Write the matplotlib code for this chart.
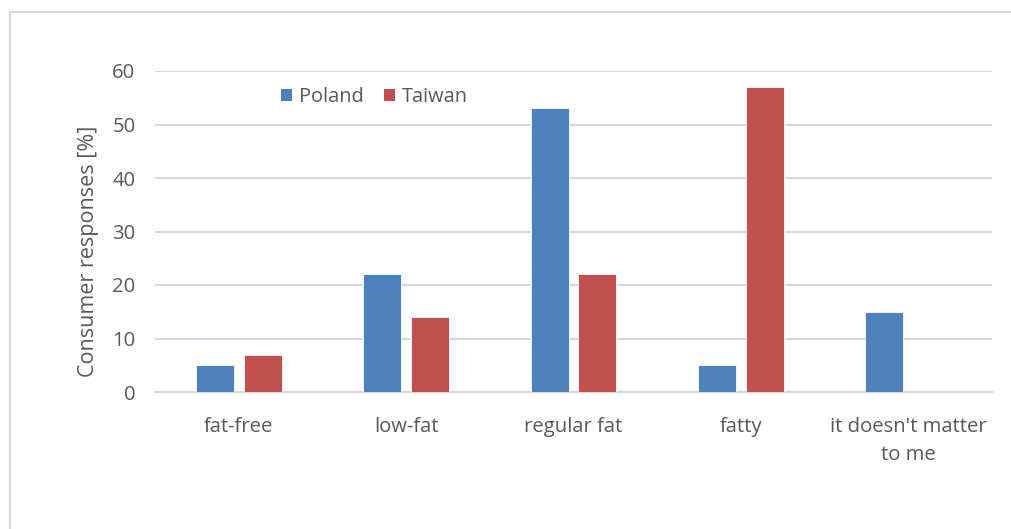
import matplotlib
matplotlib.use("Agg")
import matplotlib.pyplot as plt
import numpy as np
from matplotlib.patches import Rectangle, Patch

categories = ["fat-free", "low-fat", "regular fat", "fatty", "it doesn't matter\nto me"]
poland = [5, 22, 53, 5, 15]
taiwan = [7, 14, 22, 57, 0]
series_names = ["Poland", "Taiwan"]
y_ticks = [0, 10, 20, 30, 40, 50, 60]

plt.rcParams['font.family'] = ['Open Sans', 'DejaVu Sans']
text_color = "#595959"
grid_color = "#d9d9d9"
blue = "#4f81bd"
red = "#c0504d"

W, H = 1011, 529
fig = plt.figure(figsize=(W / 100, H / 100), dpi=100)

# chart area frame
fig.patches.append(Rectangle((10 / W, 0 - 0.01), 1.1, (H - 12) / H + 0.01,
                             transform=fig.transFigure, fill=False,
                             edgecolor=grid_color, linewidth=1.5))

ax = fig.add_axes([155 / W, 1 - 392 / H, (992 - 155) / W, (392 - 71) / H])
x = np.arange(len(categories))
bw = 0.227
off = 0.143
ax.bar(x - off, poland, bw, color=blue, edgecolor="white", linewidth=0.6, zorder=3, label=series_names[0])
ax.bar(x + off, taiwan, bw, color=red, edgecolor="white", linewidth=0.6, zorder=3, label=series_names[1])

ax.set_xlim(-0.5, len(categories) - 0.5)
ax.set_ylim(0, 60)
ax.set_yticks(y_ticks)
ax.yaxis.grid(True, color=grid_color, linewidth=1.5, zorder=0)
ax.set_axisbelow(True)
for s in ["top", "right", "left"]:
    ax.spines[s].set_visible(False)
ax.spines["bottom"].set_color(grid_color)
ax.spines["bottom"].set_linewidth(1.5)
ax.tick_params(axis="both", length=0, colors=text_color, labelsize=14.6)
ax.tick_params(axis="y", pad=14)
ax.tick_params(axis="x", pad=18)
ax.set_xticks(x)
ax.set_xticklabels(categories, linespacing=1.5)
ax.set_ylabel("Consumer responses [%]", color=text_color, fontsize=15.5)
ax.yaxis.set_label_coords((99 - 155) / (992 - 155), (392 - 251) / (392 - 71))

handles = [Patch(facecolor=blue), Patch(facecolor=red)]
ax.legend(handles, series_names, loc="center left", bbox_to_anchor=(263 / W, 1 - 97 / H),
          bbox_transform=fig.transFigure, ncol=2, frameon=False, fontsize=14.4,
          labelcolor=text_color, handlelength=0.55, handleheight=0.55, handletextpad=0.35,
          columnspacing=1.0)

fig.savefig("out.png", dpi=100)
